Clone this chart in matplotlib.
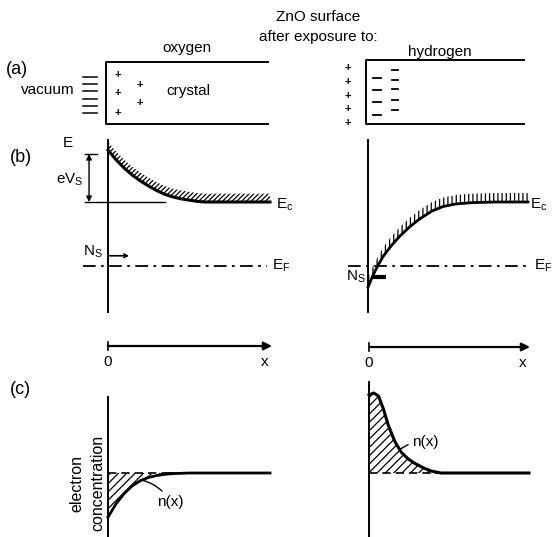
import matplotlib
matplotlib.use("Agg")
import matplotlib.pyplot as plt
import numpy as np

plt.rcParams['font.family'] = ['Liberation Sans', 'DejaVu Sans']
plt.rcParams['hatch.linewidth'] = 0.9

# ---------------- data ----------------
title_lines = ["ZnO surface", "after exposure to:"]
gases = ["oxygen", "hydrogen"]
panel_labels = ["(a)", "(b)", "(c)"]

# (b) conduction band edge vs distance (E_F = 0, bulk Ec = 1)
dist_ox = [0, .05, .1, .15, .2, .25, .3, .35, .4, .45, .5, .55, .6, .7, .8, 1.0]
Ec_oxygen = [1.81, 1.66, 1.53, 1.42, 1.33, 1.25, 1.18, 1.12, 1.08, 1.05, 1.03, 1.01, 1.0, 1.0, 1.0, 1.0]
dist_h = [0, .03, .06, .1, .15, .2, .26, .32, .4, .47, .55, .65, .8, 1.0]
Ec_hydrogen = [-.33, -.15, 0, .17, .33, .47, .61, .73, .86, .93, .97, .99, 1.0, 1.0]
E_fermi = 0.0
Ec_bulk = 1.0

# (c) electron concentration (bulk = 1)
ndist_ox = [0, .05, .1, .15, .2, .25, .3, .35, .4, .5, .6, 1.0]
n_oxygen = [.31, .52, .68, .8, .88, .93, .96, .98, .99, 1.0, 1.0, 1.0]
ndist_h = [0, .03, .06, .09, .12, .16, .2, .24, .28, .34, .39, .45, .55, 1.0]
n_hydrogen = [2.22, 2.25, 2.2, 2.0, 1.75, 1.5, 1.33, 1.23, 1.16, 1.08, 1.03, 1.0, 1.0, 1.0]
n_bulk = 1.0

# ---------------- figure ----------------
W, H = 552, 537
fig = plt.figure(figsize=(W / 100, H / 100), dpi=100)
bg = fig.add_axes([0, 0, 1, 1])
bg.set_xlim(0, W)
bg.set_ylim(H, 0)
bg.set_axis_off()

FS = 11
K = 'black'


def add_ax(x0, y0, x1, y1):
    ax = fig.add_axes([x0 / W, 1 - y1 / H, (x1 - x0) / W, (y1 - y0) / H])
    ax.set_axis_off()
    ax.set_xlim(0, 1)
    return ax

# ---- titles ----
bg.text(318, 17, title_lines[0], ha='center', va='center', fontsize=FS)
bg.text(318, 37, title_lines[1], ha='center', va='center', fontsize=FS)
bg.text(187, 48, gases[0], ha='center', va='center', fontsize=FS)
bg.text(440, 52, gases[1], ha='center', va='center', fontsize=FS)

# ---- (a) ----
bg.text(17, 69, panel_labels[0], ha='center', va='center', fontsize=13)
bg.text(75, 90, "vacuum", ha='right', va='center', fontsize=FS)
bg.plot([268, 106, 106, 268], [62, 62, 124, 124], color=K, lw=1.4)
for y in np.linspace(77, 113, 6):
    bg.plot([83, 97], [y, y], color=K, lw=1.1)
for (x, y) in [(118, 75), (118, 93), (118, 113), (140, 85), (140, 103)]:
    bg.text(x, y, "+", ha='center', va='center', fontsize=8, fontweight='bold')
bg.text(188, 91, "crystal", ha='center', va='center', fontsize=FS)

bg.plot([524, 366, 366, 524], [60, 60, 124, 124], color=K, lw=1.4)
for y in np.linspace(68, 123, 5):
    bg.text(348, y, "+", ha='center', va='center', fontsize=8, fontweight='bold')
for y in [78, 90, 102, 115]:
    bg.plot([373, 381], [y, y], color=K, lw=1.3)
for y in [70, 80, 89, 100, 110]:
    bg.plot([392, 398], [y, y], color=K, lw=1.3)

# ---- (b) ----
bg.text(21, 157, panel_labels[1], ha='center', va='center', fontsize=13)
bg.text(68, 143, "E", ha='center', va='center', fontsize=FS)

Elo, Ehi = (266 - 312) / 64, (266 - 140) / 64
dash_dot = (0, (7, 3, 1.5, 3))

axL = add_ax(108, 140, 270, 312)
axL.set_ylim(Elo, Ehi)
axL.plot([0, 0], [Elo, Ehi], color=K, lw=1.4, clip_on=False)
axL.plot(dist_ox, Ec_oxygen, color=K, lw=2.2, clip_on=False)
axL.fill_between(dist_ox, Ec_oxygen, np.array(Ec_oxygen) + 0.13, facecolor='none',
                 edgecolor=K, hatch='///////', lw=0)
axL.plot([-0.155, 0.98], [E_fermi, E_fermi], color=K, lw=1.3, ls=dash_dot, clip_on=False)
axL.plot([-0.142, 0.352], [Ec_bulk, Ec_bulk], color=K, lw=1.0, clip_on=False)
axL.plot([-0.142, -0.068], [1.75, 1.75], color=K, lw=1.0, clip_on=False)
axL.annotate('', xy=(-0.117, Ec_bulk), xytext=(-0.117, 1.75), annotation_clip=False,
             arrowprops=dict(arrowstyle='<|-|>', lw=1.0, color=K, mutation_scale=8,
                             shrinkA=0, shrinkB=0))
axL.annotate('', xy=(0.13, 0.16), xytext=(0.0, 0.16), annotation_clip=False,
             arrowprops=dict(arrowstyle='->', lw=1.2, color=K, mutation_scale=6,
                             shrinkA=0, shrinkB=0))
bg.text(70, 180, "eV$_\\mathregular{S}$", ha='center', va='center', fontsize=FS)
bg.text(93, 252, "N$_\\mathregular{S}$", ha='center', va='center', fontsize=FS)
bg.text(276, 205, "E$_\\mathregular{c}$", ha='left', va='center', fontsize=FS)
bg.text(272, 266, "E$_\\mathregular{F}$", ha='left', va='center', fontsize=FS)

axR = add_ax(368, 140, 528, 312)
axR.set_ylim(Elo, Ehi)
axR.plot([0, 0], [Elo, Ehi], color=K, lw=1.4, clip_on=False)
axR.plot(dist_h, Ec_hydrogen, color=K, lw=2.0, clip_on=False)
axR.fill_between(dist_h, Ec_hydrogen, np.array(Ec_hydrogen) + 0.14, facecolor='none',
                 edgecolor=K, hatch='||||', lw=0)
axR.plot([-0.125, 1.0], [E_fermi, E_fermi], color=K, lw=1.3, ls=dash_dot, clip_on=False)
axR.plot([0.03, 0.11], [-0.17, -0.17], color=K, lw=3, solid_capstyle='butt', clip_on=False)
bg.text(356, 277, "N$_\\mathregular{S}$", ha='center', va='center', fontsize=FS)
bg.text(530, 205, "E$_\\mathregular{c}$", ha='left', va='center', fontsize=FS)
bg.text(534, 266, "E$_\\mathregular{F}$", ha='left', va='center', fontsize=FS)

# ---- distance axes ----
for (x0, x1, y) in [(108, 272, 346), (369, 530, 347)]:
    bg.annotate('', xy=(x1, y), xytext=(x0, y),
                arrowprops=dict(arrowstyle='-|>', lw=1.6, color=K, mutation_scale=12,
                                shrinkA=0, shrinkB=0))
    bg.plot([x0, x0], [y - 4, y + 4], color=K, lw=1.2)
    bg.text(x0, y + 16, "0", ha='center', va='center', fontsize=FS)
    bg.text(x1 - 7, y + 16, "x", ha='center', va='center', fontsize=FS)

# ---- (c) ----
bg.text(20, 390, panel_labels[2], ha='center', va='center', fontsize=13)
bg.text(77, 483, "electron", rotation=90, ha='center', va='center', fontsize=11.5)
bg.text(98, 483, "concentration", rotation=90, ha='center', va='center', fontsize=11.5)

cL = add_ax(108, 397, 270, 537)
cL.set_ylim(0, 140 / 64)
cL.plot([0, 0], [0, 140 / 64], color=K, lw=1.4, clip_on=False)
cL.plot([0, 0.36], [n_bulk, n_bulk], color=K, lw=1.2, ls=(0, (5, 3)))
cL.plot([0.36, 1.0], [n_bulk, n_bulk], color=K, lw=1.3)
cL.fill_between(ndist_ox, n_oxygen, n_bulk, facecolor='none', edgecolor=K, hatch='////', lw=0)
cL.plot(ndist_ox, n_oxygen, color=K, lw=2.0, clip_on=False)
cL.annotate("n(x)", xy=(0.21, 0.89), xytext=(0.305, 0.55), fontsize=FS, va='center',
            arrowprops=dict(arrowstyle='-', lw=1.0, color=K, shrinkA=1, shrinkB=0,
                            connectionstyle='arc3,rad=0.2'))

cR = add_ax(369, 382, 529, 537)
cR.set_ylim(0, 155 / 64)
cR.plot([0, 0], [0, 155 / 64], color=K, lw=1.4, clip_on=False)
cR.plot([0, 0.45], [n_bulk, n_bulk], color=K, lw=1.2, ls=(0, (5, 3)))
cR.plot([0.42, 0.99], [n_bulk, n_bulk], color=K, lw=1.3)
cR.fill_between(ndist_h, n_hydrogen, n_bulk, facecolor='none', edgecolor=K, hatch='////', lw=0)
cR.plot(ndist_h, n_hydrogen, color=K, lw=2.2, clip_on=False)
cR.annotate("n(x)", xy=(0.19, 1.36), xytext=(0.27, 1.48), fontsize=FS, va='center',
            arrowprops=dict(arrowstyle='-', lw=1.0, color=K, shrinkA=1, shrinkB=0,
                            connectionstyle='arc3,rad=0.2'))

fig.savefig("out.png", dpi=100)
